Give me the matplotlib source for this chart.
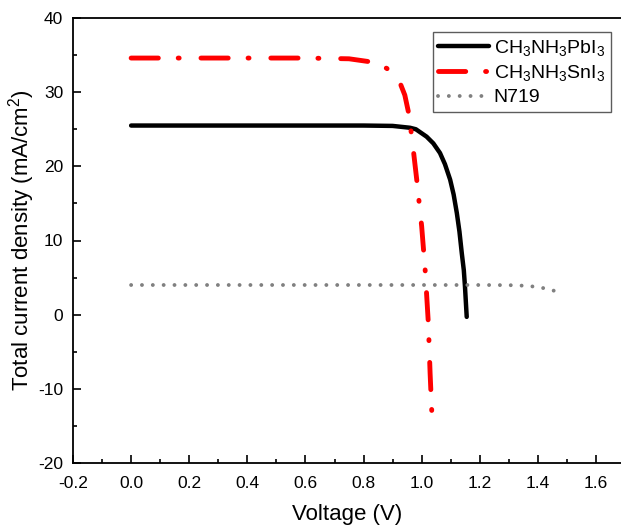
import matplotlib
matplotlib.use("Agg")
import matplotlib.pyplot as plt
from matplotlib.ticker import MultipleLocator, FormatStrFormatter

plt.rcParams['font.family'] = ['Liberation Sans', 'DejaVu Sans']
plt.rcParams['mathtext.fontset'] = 'custom'
plt.rcParams['mathtext.rm'] = 'Liberation Sans'
plt.rcParams['mathtext.it'] = 'Liberation Sans:italic'
plt.rcParams['mathtext.default'] = 'regular'
plt.rcParams['axes.unicode_minus'] = False
plt.rcParams['lines.scale_dashes'] = False

# Data
v_pb = [0.0, 0.2, 0.4, 0.6, 0.8, 0.9, 0.96, 0.98, 1.017, 1.04, 1.063, 1.08, 1.098, 1.11,
        1.121, 1.13, 1.138, 1.145, 1.149, 1.155]
j_pb = [25.5, 25.5, 25.5, 25.5, 25.5, 25.45, 25.2, 25.0, 24.0, 23.1, 21.8, 20.3, 18.2, 16.2,
        13.7, 11.2, 8.3, 6.0, 3.8, -0.3]

v_sn = [0.0, 0.2, 0.4, 0.6, 0.75, 0.822, 0.85, 0.88, 0.905, 0.926, 0.942, 0.954, 0.966,
        0.983, 1.0, 1.012, 1.023, 1.029, 1.035]
j_sn = [34.6, 34.6, 34.6, 34.6, 34.5, 34.1, 33.8, 33.2, 32.4, 31.2, 29.6, 27.4, 24.0,
        18.2, 11.9, 6.0, -1.2, -7.9, -13.3]

v_n719 = [0.0, 0.4, 0.8, 1.2, 1.3, 1.356, 1.396, 1.43, 1.467]
j_n719 = [4.0, 4.0, 4.0, 4.0, 3.98, 3.9, 3.75, 3.5, 3.1]

labels = [r'CH$_3$NH$_3$PbI$_3$', r'CH$_3$NH$_3$SnI$_3$', 'N719']

fig = plt.figure(figsize=(6.21, 5.29), dpi=100)
ax = fig.add_axes([73/621, 66/529, 1 - 73/621, 445/529])

ax.plot(v_pb, j_pb, color='black', lw=3.2, solid_capstyle='round',
        solid_joinstyle='round', label=labels[0])
ax.plot(v_sn, j_sn, color='#ff0000', lw=3.5, dash_capstyle='round',
        dashes=(19.6, 14.3, 0.7, 15.7), label=labels[1])
ax.plot(v_n719, j_n719, color='#808080', lw=2.8, dash_capstyle='round',
        dashes=(0.01, 7.8), label=labels[2])

ax.set_xlim(-0.2, 1.686)
ax.set_ylim(-20, 40)
ax.xaxis.set_major_locator(MultipleLocator(0.2))
ax.xaxis.set_minor_locator(MultipleLocator(0.1))
ax.yaxis.set_major_locator(MultipleLocator(10))
ax.yaxis.set_minor_locator(MultipleLocator(5))
ax.xaxis.set_major_formatter(FormatStrFormatter('%.1f'))
ax.yaxis.set_major_formatter(FormatStrFormatter('%d'))
ax.tick_params(which='major', direction='in', length=6, width=1.2, labelsize=12.5)
ax.tick_params(axis='x', which='major', pad=9)
ax.tick_params(axis='y', which='major', pad=7)
ax.tick_params(which='minor', direction='in', length=3, width=1.2)
ax.tick_params(top=False, right=False)
ax.spines['right'].set_visible(False)
for s in ['left', 'bottom', 'top']:
    ax.spines[s].set_linewidth(1.3)

ax.set_xlabel('Voltage (V)', fontsize=16, labelpad=10)
ax.set_ylabel('Total current density (mA/cm$^2$)', fontsize=16, labelpad=0.5)

leg = ax.legend(loc='upper right', bbox_to_anchor=((611-73)/548, (463-32)/445),
                fontsize=14, frameon=True, fancybox=False, edgecolor='#333333',
                handlelength=2.6, handletextpad=0.25, borderpad=0.3, labelspacing=0.28,
                borderaxespad=0)
leg.get_frame().set_linewidth(1.0)

fig.savefig('out.png', dpi=100)
